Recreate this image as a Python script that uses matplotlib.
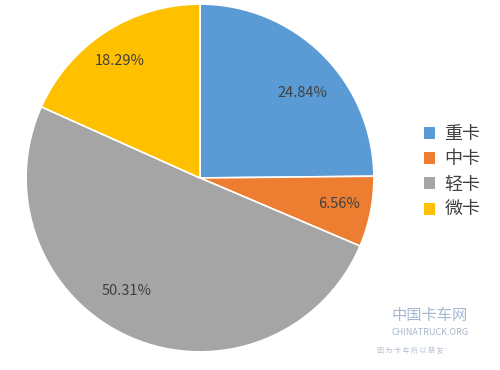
import matplotlib.pyplot as plt
from matplotlib.patches import Patch

plt.rcParams['font.family'] = ['Noto Sans CJK SC', 'DejaVu Sans']

categories = ['重卡', '中卡', '轻卡', '微卡']
shares = [24.84, 6.56, 50.31, 18.29]
colors = ['#5B9BD5', '#ED7D31', '#A5A5A5', '#FFC000']
# label anchor points (pie radius = 1)
label_pos = [(0.59, 0.49), (0.80, -0.15), (-0.42, -0.65), (-0.46, 0.67)]

fig = plt.figure(figsize=(5, 3.7), dpi=100)
ax = fig.add_axes([0.052, 0.049, 0.696, 0.94])
wedges, texts, autotexts = ax.pie(
    shares, colors=colors, startangle=90, counterclock=False,
    autopct=lambda p: '%.2f%%' % p,
    wedgeprops=dict(edgecolor='white', linewidth=1.2),
    textprops=dict(fontsize=10.5, color='#404040'))
for t, pos in zip(autotexts, label_pos):
    t.set_position(pos)
ax.set_xlim(-1.0, 1.0)
ax.set_ylim(-1.0, 1.0)
ax.set_aspect('equal')

handles = [Patch(facecolor=c, edgecolor='none') for c in colors]
fig.legend(handles, categories, loc='center left', bbox_to_anchor=(0.815, 0.535),
           frameon=False, fontsize=13, handlelength=0.65, handleheight=0.65,
           handletextpad=0.5, labelspacing=0.4, labelcolor='#404040')

# watermark
fig.text(0.86, 0.135, '中国卡车网', fontsize=11, color='#8FA6C6', ha='center', alpha=0.8)
fig.text(0.86, 0.095, 'CHINATRUCK.ORG', fontsize=6.5, color='#A9B7C9', ha='center')
fig.text(0.82, 0.045, '因 为 卡 车 所 以 朋 友', fontsize=5, color='#B5C0CE', ha='center')

fig.savefig('out.png', dpi=100)
